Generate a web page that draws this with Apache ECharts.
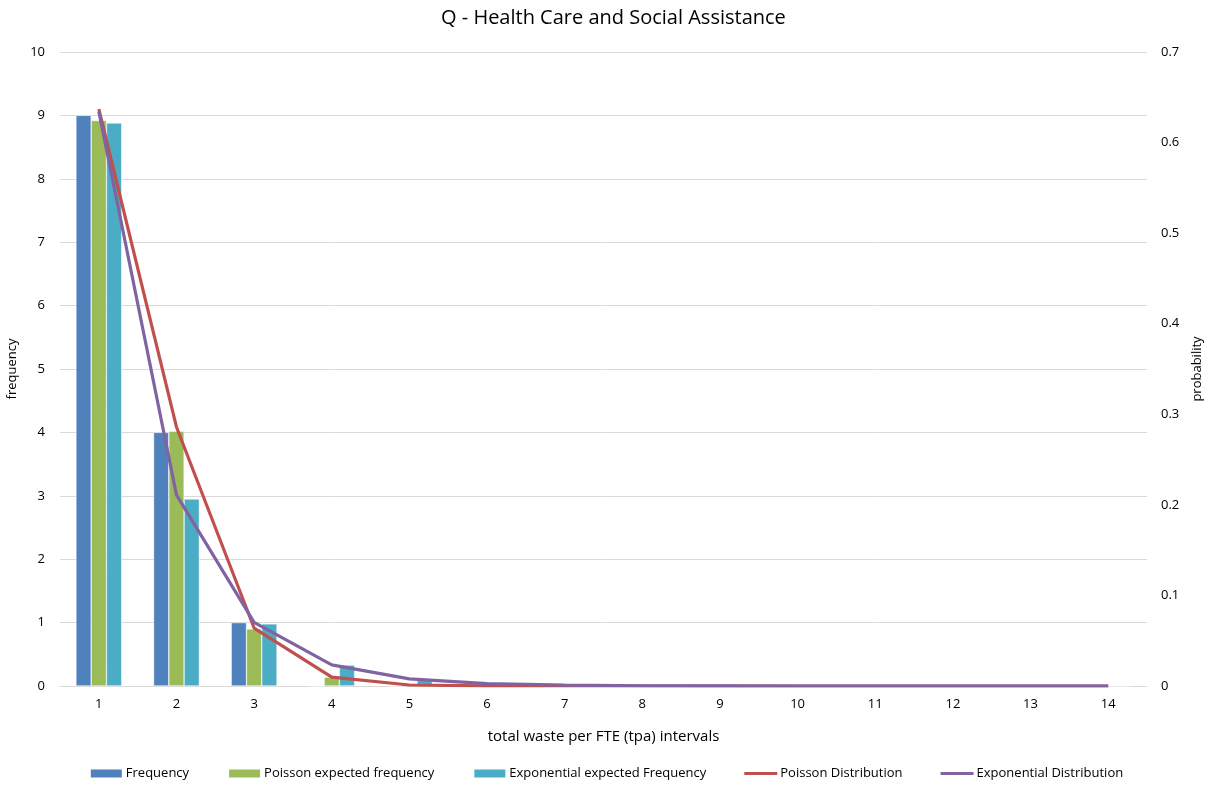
<!DOCTYPE html>
<html><head><meta charset="utf-8">
<script src="https://cdn.jsdelivr.net/npm/echarts@6/dist/echarts.min.js"></script>
<style>html,body{margin:0;padding:0;background:#fff}#c{width:1212px;height:789px}</style>
</head><body><div id="c"></div>
<script>
const categories = ['1','2','3','4','5','6','7','8','9','10','11','12','13','14'];
const frequency = [9,4,1,0,0,0,0,0,0,0,0,0,0,0];
const poissonExpected = [8.92,4.02,0.9,0.14,0.016,0.001,0,0,0,0,0,0,0,0];
const expExpected = [8.88,2.95,0.98,0.33,0.11,0.036,0.012,0.004,0.001,0,0,0,0,0];
const poissonDist = [0.637,0.286,0.064,0.0099,0.0011,0.0001,0,0,0,0,0,0,0,0];
const expDist = [0.634,0.211,0.0703,0.0234,0.0078,0.0026,0.0009,0.0003,0.0001,0,0,0,0,0];

const FONT = 'Open Sans';
const LINE_ICON = 'path://M0,0L0.01,0L0,0.01Z M0,3.5L33,3.5L33,6.5L0,6.5Z M33,10L32.99,10L33,9.99Z';
const chart = echarts.init(document.getElementById('c'));
chart.setOption({
  animation:false,
  textStyle:{fontFamily:FONT},
  title:{text:'Q - Health Care and Social Assistance',left:436,top:3,
    textStyle:{fontFamily:FONT,fontSize:20,fontWeight:'normal',color:'#000'}},
  grid:{left:60,right:65,top:52,bottom:103,outerBoundsMode:'none'},
  legend:{bottom:4,left:'center',itemWidth:33,itemHeight:10,itemGap:38,
    textStyle:{fontFamily:FONT,fontSize:13,color:'#000',padding:[0,0,0,-2]},
    data:[{name:'Frequency',icon:'rect'},{name:'Poisson expected frequency',icon:'rect'},
      {name:'Exponential expected Frequency',icon:'rect'},
      {name:'Poisson Distribution',icon:LINE_ICON},{name:'Exponential Distribution',icon:LINE_ICON}]},
  xAxis:{type:'category',data:categories,
    name:'total waste per FTE (tpa) intervals',nameLocation:'middle',nameGap:43,
    nameTextStyle:{fontFamily:FONT,fontSize:15,color:'#000'},
    axisLine:{lineStyle:{color:'#d9d9d9'}},axisTick:{show:false},
    axisLabel:{fontFamily:FONT,fontSize:13,color:'#000',margin:12}},
  yAxis:[{type:'value',min:0,max:10,interval:1,name:'frequency',nameLocation:'middle',nameGap:38,
      nameTextStyle:{fontFamily:FONT,fontSize:13,color:'#000'},
      axisLabel:{fontFamily:FONT,fontSize:13,color:'#000',margin:15},
      splitLine:{lineStyle:{color:'#d9d9d9'}},axisLine:{show:false},axisTick:{show:false}},
    {type:'value',min:0,max:0.7,interval:0.1,name:'probability',nameLocation:'middle',nameGap:44,
      nameTextStyle:{fontFamily:FONT,fontSize:13,color:'#000'},
      axisLabel:{fontFamily:FONT,fontSize:13,color:'#000',margin:14},
      splitLine:{show:false},axisLine:{show:false},axisTick:{show:false}}],
  series:[
    {name:'Frequency',type:'bar',data:frequency,barGap:'0%',barCategoryGap:'41%',
      itemStyle:{color:'#4F81BD',borderColor:'#fff',borderWidth:0.5}},
    {name:'Poisson expected frequency',type:'bar',data:poissonExpected,barGap:'0%',barCategoryGap:'41%',
      itemStyle:{color:'#9BBB59',borderColor:'#fff',borderWidth:0.5}},
    {name:'Exponential expected Frequency',type:'bar',data:expExpected,barGap:'0%',barCategoryGap:'41%',
      itemStyle:{color:'#4BACC6',borderColor:'#fff',borderWidth:0.5}},
    {name:'Poisson Distribution',type:'line',yAxisIndex:1,data:poissonDist,symbol:'none',
      lineStyle:{color:'#C0504D',width:3.2},itemStyle:{color:'#C0504D'}},
    {name:'Exponential Distribution',type:'line',yAxisIndex:1,data:expDist,symbol:'none',
      lineStyle:{color:'#8064A2',width:3.2},itemStyle:{color:'#8064A2'}}
  ]
});
</script></body></html>
